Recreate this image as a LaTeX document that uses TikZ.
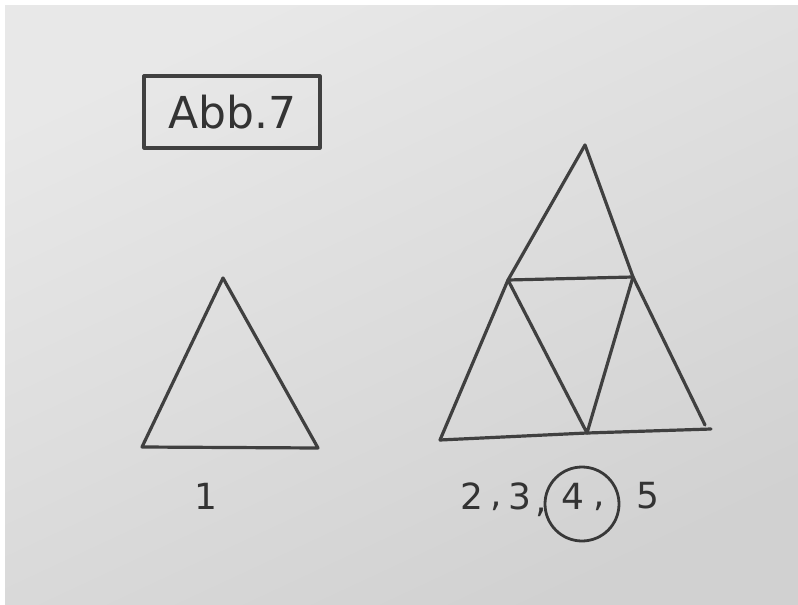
\documentclass[tikz,border=0pt]{standalone}
\usepackage{fontspec}
\setmainfont{DejaVu Sans}
\begin{document}
\begin{tikzpicture}[x=1pt,y=-1pt,
  pen/.style={draw=black!75, line width=3.2pt, line cap=round, line join=round},
  thinpen/.style={draw=black!78, line width=2.8pt, line cap=round},
  hand/.style={text=black!80, inner sep=0pt, font=\fontsize{36}{36}\selectfont}]
\useasboundingbox (0,0) rectangle (798,605);
\fill[white] (0,0) rectangle (798,605);
\shade[top color=black!9, bottom color=black!18, shading angle=25] (5,5) rectangle (798,605);
% title box
\node[pen, minimum width=176pt, minimum height=72pt, inner sep=0pt, text=black!80,
      font=\fontsize{44}{44}\selectfont] (title) at (232,112) {Abb.7};
% small triangle
\coordinate (sA) at (223,278);
\coordinate (sB) at (142,447);
\coordinate (sC) at (318,448);
\draw[pen] (sA) -- (sB) -- (sC) -- cycle;
% big triangle
\coordinate (bA) at (585,145);
\coordinate (bL) at (440,440);
\coordinate (bR) at (705,425);
\coordinate (bRe) at (711,429);
\coordinate (mL) at (508,280);
\coordinate (mR) at (633,277);
\coordinate (mB) at (587,433);
\draw[pen] (bA) -- (mL) -- (bL);
\draw[pen] (bA) -- (mR) -- (bR);
\draw[pen] (bL) -- (mB) -- (bRe);
\draw[pen] (mL) -- (mR);
\draw[pen] (mL) -- (mB) -- (mR);
% labels
\node[hand] (one) at (206,496) {1};
\node[hand] (two) at (472,496) {2};
\node[hand] (c1) at (496,506) {,};
\node[hand] (three) at (520,496) {3};
\node[hand] (c2) at (541,512) {,};
\node[hand] (four) at (573,496) {4};
\node[hand] (c3) at (599,506) {,};
\node[hand] (five) at (648,496) {5};
\node[thinpen, circle, minimum size=74pt, inner sep=0pt] (ring) at (582,504) {};
\end{tikzpicture}
\end{document}
